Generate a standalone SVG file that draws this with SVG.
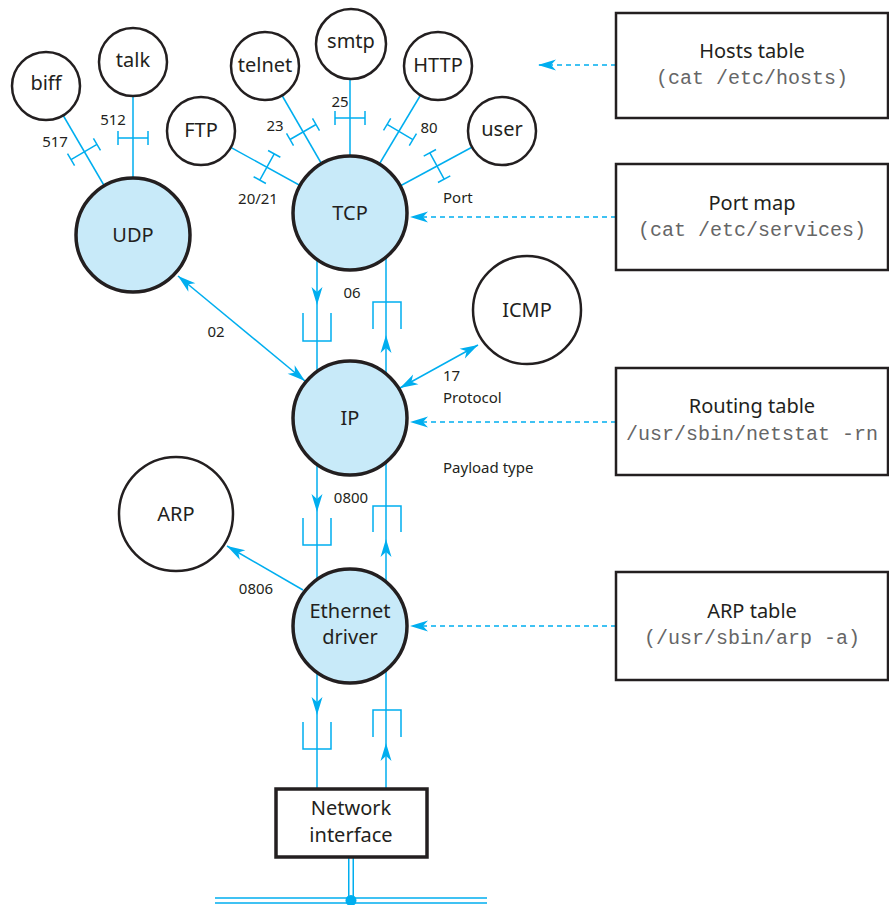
<svg xmlns="http://www.w3.org/2000/svg" xmlns:xlink="http://www.w3.org/1999/xlink" width="889" height="905" viewBox="0 0 889 905">
<style>
.bl{stroke:#00aeef;stroke-width:1.5;fill:none}
.ds{stroke:#00aeef;stroke-width:1.5;fill:none;stroke-dasharray:5 4}
.sm{fill:#fff;stroke:#231f20;stroke-width:2.5}
.big{fill:#c8eaf9;stroke:#231f20;stroke-width:3.5}
.box{fill:#fff;stroke:#231f20;stroke-width:2.5}
.nl{font-family:"Noto Sans","Open Sans",sans-serif;font-size:20px;fill:#231f20;text-anchor:middle}
.lb{font-family:"Noto Sans","Open Sans",sans-serif;font-size:15px;fill:#231f20}
.c{text-anchor:middle}
.mono{font-family:"Liberation Mono","DejaVu Sans Mono",monospace;font-size:20px;fill:#666;text-anchor:middle}
</style>
<defs>
<marker id="ah" viewBox="-19 -7 20 14" refX="0" refY="0" markerWidth="20" markerHeight="14" markerUnits="userSpaceOnUse" orient="auto-start-reverse">
<path d="M0,0 L-18,-5.5 L-13,0 L-18,5.5 Z" fill="#00aeef"/>
</marker>
<path id="ib" d="M-15,0 H15 M-15,-7 V7 M15,-7 V7" fill="none" stroke="#00aeef" stroke-width="1.5"/>
<path id="ad" d="M0,0 L-5.5,-18 L0,-13 L5.5,-18 Z" fill="#00aeef"/>
</defs>

<g id="connectors">
<line class="bl" x1="46" y1="86" x2="133" y2="235"/>
<line class="bl" x1="133" y1="62" x2="133" y2="235"/>
<line class="bl" x1="201" y1="131" x2="350" y2="213"/>
<line class="bl" x1="265" y1="66" x2="350" y2="213"/>
<line class="bl" x1="350" y1="44" x2="350" y2="213"/>
<line class="bl" x1="438" y1="66" x2="350" y2="213"/>
<line class="bl" x1="502" y1="131" x2="350" y2="213"/>
<use href="#ib" transform="translate(84,152) rotate(-30.3)"/>
<use href="#ib" transform="translate(133,138)"/>
<use href="#ib" transform="translate(267,167) rotate(-61.2)"/>
<use href="#ib" transform="translate(303,132) rotate(-30)"/>
<use href="#ib" transform="translate(350,118)"/>
<use href="#ib" transform="translate(400,132) rotate(30.9)"/>
<use href="#ib" transform="translate(437,166) rotate(61.6)"/>
<line class="bl" x1="178" y1="276" x2="305" y2="381" marker-start="url(#ah)" marker-end="url(#ah)"/>
<line class="bl" x1="478" y1="345" x2="400" y2="388" marker-start="url(#ah)" marker-end="url(#ah)"/>
<line class="bl" x1="303" y1="590" x2="227" y2="546" marker-end="url(#ah)"/>
<line class="bl" x1="317" y1="213" x2="317" y2="789"/>
<line class="bl" x1="386" y1="213" x2="386" y2="789"/>
<path class="bl" d="M303,313 V341 H331 V313 M373,329 V302 H401 V329"/>
<use href="#ad" transform="translate(317,305)"/>
<use href="#ad" transform="translate(386,335) rotate(180)"/>
<path class="bl" d="M303,518 V545 H331 V518 M373,532 V506 H401 V532"/>
<use href="#ad" transform="translate(317,512)"/>
<use href="#ad" transform="translate(386,539) rotate(180)"/>
<path class="bl" d="M303,722 V749 H331 V722 M373,737 V710 H401 V737"/>
<use href="#ad" transform="translate(317,715)"/>
<use href="#ad" transform="translate(386,743) rotate(180)"/>
<line class="ds" x1="616" y1="65" x2="538" y2="65" marker-end="url(#ah)"/>
<line class="ds" x1="616" y1="217" x2="410" y2="217" marker-end="url(#ah)"/>
<line class="ds" x1="616" y1="422" x2="410" y2="422" marker-end="url(#ah)"/>
<line class="ds" x1="616" y1="626" x2="410" y2="626" marker-end="url(#ah)"/>
<line x1="351" y1="857" x2="351" y2="900" stroke="#00aeef" stroke-width="6"/>
<line x1="215" y1="900.5" x2="487" y2="900.5" stroke="#00aeef" stroke-width="6.5"/>
<line x1="215" y1="900.5" x2="487" y2="900.5" stroke="#fff" stroke-width="3.5"/>
<line x1="351" y1="857" x2="351" y2="899" stroke="#fff" stroke-width="3"/>
<circle cx="351" cy="900.5" r="5.5" fill="#00aeef"/>
</g>

<g id="biff"><circle class="sm" cx="46" cy="86" r="34"/><text class="nl" x="46" y="90">biff</text></g>
<g id="talk"><circle class="sm" cx="133" cy="62" r="34"/><text class="nl" x="133" y="67">talk</text></g>
<g id="ftp"><circle class="sm" cx="201" cy="131" r="34"/><text class="nl" x="201" y="137">FTP</text></g>
<g id="telnet"><circle class="sm" cx="265" cy="66" r="34"/><text class="nl" x="265" y="72">telnet</text></g>
<g id="smtp"><circle class="sm" cx="351" cy="44" r="35"/><text class="nl" x="351" y="48">smtp</text></g>
<g id="http"><circle class="sm" cx="438" cy="66" r="34"/><text class="nl" x="438" y="72">HTTP</text></g>
<g id="user"><circle class="sm" cx="502" cy="131" r="34"/><text class="nl" x="502" y="136">user</text></g>
<g id="udp"><circle class="big" cx="133" cy="235" r="57"/><text class="nl" x="133" y="242">UDP</text></g>
<g id="tcp"><circle class="big" cx="350" cy="213" r="57"/><text class="nl" x="350" y="220">TCP</text></g>
<g id="ip"><circle class="big" cx="350" cy="418" r="57"/><text class="nl" x="350" y="425">IP</text></g>
<g id="icmp"><circle class="sm" cx="527" cy="310" r="54"/><text class="nl" x="527" y="317">ICMP</text></g>
<g id="arp"><circle class="sm" cx="176" cy="514" r="57"/><text class="nl" x="176" y="521">ARP</text></g>
<g id="ethernet"><circle class="big" cx="350" cy="626" r="57"/><text class="nl" x="350" y="618">Ethernet</text><text class="nl" x="350" y="644">driver</text></g>
<g id="netif"><rect x="276" y="789" width="151" height="68" fill="#fff" stroke="#231f20" stroke-width="3.5"/><text class="nl" x="351" y="815">Network</text><text class="nl" x="351" y="842">interface</text></g>

<g id="hosts"><rect class="box" x="616" y="13" width="272" height="105"/><text class="nl" x="752" y="58">Hosts table</text><text class="mono" x="752" y="84">(cat /etc/hosts)</text></g>
<g id="portmap"><rect class="box" x="616" y="164" width="272" height="106"/><text class="nl" x="752" y="210">Port map</text><text class="mono" x="752" y="236">(cat /etc/services)</text></g>
<g id="routing"><rect class="box" x="616" y="368" width="272" height="107"/><text class="nl" x="752" y="413">Routing table</text><text class="mono" x="752" y="440">/usr/sbin/netstat -rn</text></g>
<g id="arptable"><rect class="box" x="616" y="572" width="272" height="108"/><text class="nl" x="752" y="618">ARP table</text><text class="mono" x="752" y="644">(/usr/sbin/arp -a)</text></g>

<g id="labels">
<text class="lb c" x="55" y="147">517</text>
<text class="lb c" x="113" y="125">512</text>
<text class="lb c" x="258" y="204">20/21</text>
<text class="lb c" x="275" y="131">23</text>
<text class="lb c" x="340" y="107">25</text>
<text class="lb c" x="429" y="133">80</text>
<text class="lb" x="443" y="203">Port</text>
<text class="lb c" x="352" y="298">06</text>
<text class="lb c" x="216" y="337">02</text>
<text class="lb" x="443" y="381">17</text>
<text class="lb" x="443" y="403">Protocol</text>
<text class="lb" x="443" y="473">Payload type</text>
<text class="lb c" x="351" y="503">0800</text>
<text class="lb c" x="256" y="594">0806</text>
</g>
</svg>
